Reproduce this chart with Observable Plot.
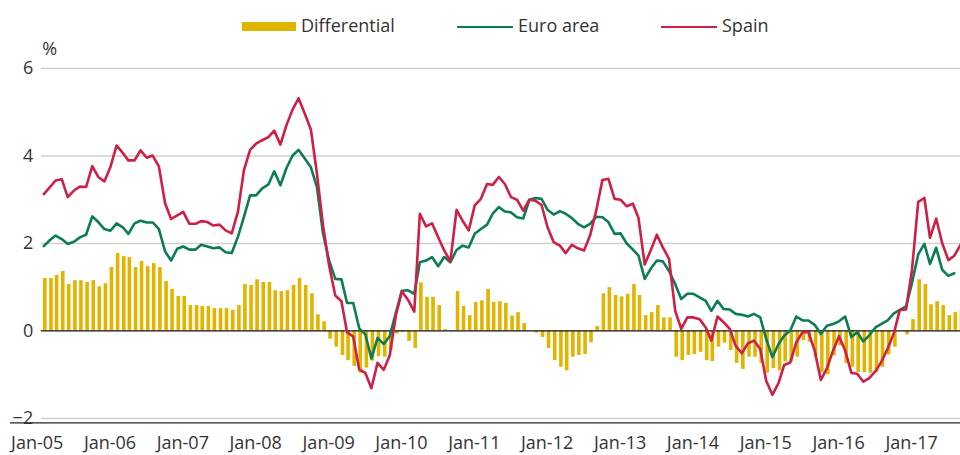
<!DOCTYPE html>
<html>
<head>
<meta charset="utf-8">
<script src="https://cdn.jsdelivr.net/npm/d3@7"></script>
<script src="https://cdn.jsdelivr.net/npm/@observablehq/plot@0.6"></script>
<style>
  body { margin: 0; background: #fff; font-family: "Open Sans", sans-serif; }
  #wrap { width: 960px; height: 455px; position: relative; overflow: hidden; background: #fff; }
  #legend { position: relative; width: 960px; height: 40px; font-size: 18px; color: #333; }
  #legend .sw { position: absolute; }
  #legend .lt { position: absolute; top: 13px; line-height: 24px; white-space: nowrap; }
  #chart svg { display: block; }
</style>
</head>
<body>
<div id="wrap">
  <div id="legend"></div>
  <div id="chart"></div>
</div>
<script>
// ---- Data (monthly, starting Jan 2005) ----
const startYear = 2005;
const seriesNames = ["Differential", "Euro area", "Spain"];
const tickYears = [2005, 2006, 2007, 2008, 2009, 2010, 2011, 2012, 2013, 2014, 2015, 2016, 2017];
const yTicks = [6, 4, 2, 0, -2];
const yUnit = "%";

const euroArea = [
  1.94, 2.08, 2.18, 2.10, 1.99, 2.04, 2.14, 2.20, 2.62, 2.49, 2.33, 2.29,
  2.46, 2.37, 2.22, 2.46, 2.52, 2.48, 2.48, 2.33, 1.82, 1.61, 1.88, 1.93,
  1.86, 1.86, 1.97, 1.93, 1.89, 1.91, 1.80, 1.78, 2.15, 2.60, 3.10, 3.10,
  3.26, 3.35, 3.65, 3.33, 3.72, 4.01, 4.14, 3.94, 3.74, 3.29, 2.22, 1.61,
  1.19, 1.18, 0.64, 0.64, 0.06, -0.08, -0.63, -0.16, -0.30, -0.12, 0.42, 0.92,
  0.93, 0.85, 1.57, 1.61, 1.69, 1.48, 1.69, 1.57, 1.85, 1.95, 1.91, 2.22,
  2.33, 2.43, 2.68, 2.83, 2.73, 2.71, 2.60, 2.57, 3.00, 3.04, 3.02, 2.77,
  2.66, 2.74, 2.68, 2.58, 2.45, 2.37, 2.45, 2.61, 2.60, 2.49, 2.22, 2.23,
  2.00, 1.86, 1.72, 1.19, 1.42, 1.61, 1.59, 1.37, 1.07, 0.73, 0.85, 0.85,
  0.77, 0.69, 0.46, 0.69, 0.50, 0.49, 0.39, 0.37, 0.33, 0.39, 0.31, -0.18,
  -0.60, -0.30, -0.11, 0.01, 0.33, 0.24, 0.24, 0.14, -0.07, 0.12, 0.16, 0.22,
  0.33, -0.14, -0.03, -0.24, -0.10, 0.08, 0.16, 0.24, 0.40, 0.48, 0.56, 1.10,
  1.75, 1.99, 1.53, 1.90, 1.40, 1.26, 1.32
];

const spain = [
  3.13, 3.29, 3.44, 3.47, 3.06, 3.21, 3.30, 3.29, 3.77, 3.52, 3.42, 3.75,
  4.24, 4.07, 3.90, 3.90, 4.13, 3.96, 4.01, 3.76, 2.92, 2.56, 2.64, 2.72,
  2.45, 2.45, 2.51, 2.49, 2.41, 2.43, 2.30, 2.23, 2.72, 3.67, 4.14, 4.28,
  4.36, 4.43, 4.58, 4.26, 4.70, 5.06, 5.32, 4.97, 4.60, 3.60, 2.40, 1.50,
  0.81, 0.68, -0.03, -0.13, -0.88, -0.96, -1.31, -0.73, -0.89, -0.56, 0.36, 0.91,
  0.71, 0.44, 2.68, 2.39, 2.46, 2.14, 1.84, 1.59, 2.77, 2.52, 2.30, 2.87,
  3.02, 3.36, 3.34, 3.52, 3.36, 3.06, 3.00, 2.75, 3.00, 2.98, 2.88, 2.37,
  2.03, 1.95, 1.78, 1.97, 1.89, 1.84, 2.18, 2.75, 3.45, 3.48, 3.02, 3.00,
  2.85, 2.91, 2.58, 1.52, 1.84, 2.20, 1.91, 1.65, 0.46, 0.05, 0.31, 0.31,
  0.27, 0.08, -0.22, 0.33, 0.20, 0.05, -0.34, -0.51, -0.28, -0.22, -0.41, -1.14,
  -1.46, -1.19, -0.78, -0.72, -0.26, -0.03, -0.03, -0.45, -1.12, -0.86, -0.45, -0.12,
  -0.45, -0.96, -0.98, -1.16, -1.08, -0.92, -0.70, -0.40, -0.05, 0.48, 0.49, 1.40,
  2.95, 3.04, 2.13, 2.57, 2.01, 1.62, 1.72, 1.97
];

const differential = [
  1.20, 1.20, 1.27, 1.36, 1.06, 1.15, 1.15, 1.11, 1.15, 1.01, 1.08, 1.45,
  1.77, 1.70, 1.68, 1.45, 1.59, 1.47, 1.54, 1.45, 1.13, 0.95, 0.79, 0.79,
  0.58, 0.58, 0.56, 0.56, 0.51, 0.51, 0.51, 0.47, 0.58, 1.06, 1.04, 1.17,
  1.11, 1.11, 0.92, 0.90, 0.92, 1.04, 1.20, 1.04, 0.85, 0.37, 0.21, -0.19,
  -0.37, -0.56, -0.68, -0.81, -0.97, -0.85, -0.69, -0.59, -0.60, -0.45, -0.07, -0.03,
  -0.24, -0.40, 1.10, 0.77, 0.77, 0.58, 0.03, 0.01, 0.90, 0.56, 0.35, 0.65,
  0.69, 0.95, 0.65, 0.67, 0.63, 0.34, 0.42, 0.17, 0.00, -0.05, -0.15, -0.40,
  -0.68, -0.83, -0.91, -0.60, -0.56, -0.54, -0.27, 0.10, 0.85, 0.99, 0.81, 0.78,
  0.84, 1.06, 0.81, 0.35, 0.42, 0.58, 0.30, 0.30, -0.60, -0.68, -0.56, -0.54,
  -0.49, -0.68, -0.70, -0.37, -0.28, -0.45, -0.74, -0.88, -0.60, -0.60, -0.74, -0.97,
  -0.86, -0.91, -0.71, -0.71, -0.60, -0.22, -0.26, -0.60, -0.95, -1.00, -0.57, -0.34,
  -0.74, -0.83, -0.95, -0.95, -0.97, -0.95, -0.83, -0.55, -0.37, 0.00, -0.09, 0.26,
  1.17, 1.06, 0.60, 0.67, 0.58, 0.35, 0.42, 0.47
];

// ---- Styles ----
const GOLD = "#e2b400", GREEN = "#0a7d55", RED = "#cf1f46";
const colors = [GOLD, GREEN, RED];

const monthDate = i => new Date(Date.UTC(startYear, i, 1));
const euroRows = euroArea.map((v, i) => ({date: monthDate(i), v}));
const spainRows = spain.map((v, i) => ({date: monthDate(i), v}));
const diffRows = differential.map((v, i) => ({date: monthDate(i), v}));
const tickDates = tickYears.map(y => new Date(Date.UTC(y, 0, 1)));

// ---- Legend (HTML) ----
const legend = document.getElementById("legend");
const legendLayout = [
  {sw: {left: 242, top: 22, width: 54, height: 9}, text: 301},
  {sw: {left: 457, top: 25.5, width: 56, height: 2.6}, text: 518},
  {sw: {left: 661, top: 25.5, width: 56, height: 2.6}, text: 722}
];
seriesNames.forEach((name, k) => {
  const L = legendLayout[k];
  const sw = document.createElement("div");
  sw.className = "sw";
  Object.assign(sw.style, {left: L.sw.left + "px", top: L.sw.top + "px", width: L.sw.width + "px", height: L.sw.height + "px", background: colors[k]});
  legend.appendChild(sw);
  const t = document.createElement("span");
  t.className = "lt";
  t.style.left = L.text + "px";
  t.textContent = name;
  legend.appendChild(t);
});

// ---- Chart ----
const xDomain = [new Date(Date.UTC(2004, 11, 19)), new Date(Date.UTC(2017, 7, 1))];

const chart = Plot.plot({
  width: 960,
  height: 415,
  marginTop: 28,
  marginBottom: 32.7,
  marginLeft: 40.7,
  marginRight: 0,
  style: {fontFamily: "'Open Sans', sans-serif", fontSize: "18px", color: "#333", background: "#fff", overflow: "visible"},
  x: {type: "utc", domain: xDomain},
  y: {domain: [-2.1, 6]},
  marks: [
    Plot.gridY([6, 4, 2, -2], {stroke: "#d0d0d0", strokeOpacity: 1, strokeWidth: 1.6}),
    Plot.ruleX(diffRows, {x: "date", y1: 0, y2: "v", stroke: GOLD, strokeWidth: 3.6, dx: 1}),
    Plot.ruleY([0], {stroke: "#111", strokeWidth: 1.3}),
    Plot.ruleY([-2.1], {stroke: "#222", strokeWidth: 1.3, insetLeft: -30.7}),
    Plot.line(euroRows, {x: "date", y: "v", stroke: GREEN, strokeWidth: 2.6}),
    Plot.line(spainRows, {x: "date", y: "v", stroke: RED, strokeWidth: 2.6}),
    Plot.axisY(yTicks, {tickSize: 0, tickPadding: 8, label: null, fontSize: 18, fill: "#333"}),
    Plot.axisX(tickDates, {tickSize: 0, tickPadding: 13, label: null, fontSize: 18, fill: "#333", dx: -6.6,
      tickFormat: d => "Jan-" + String(d.getUTCFullYear()).slice(2)}),
    Plot.text([yUnit], {frameAnchor: "top-left", text: d => d, dx: 1, dy: -19, textAnchor: "start", lineAnchor: "middle", fontSize: 18, fill: "#333"})
  ]
});
document.getElementById("chart").appendChild(chart);
</script>
</body>
</html>
